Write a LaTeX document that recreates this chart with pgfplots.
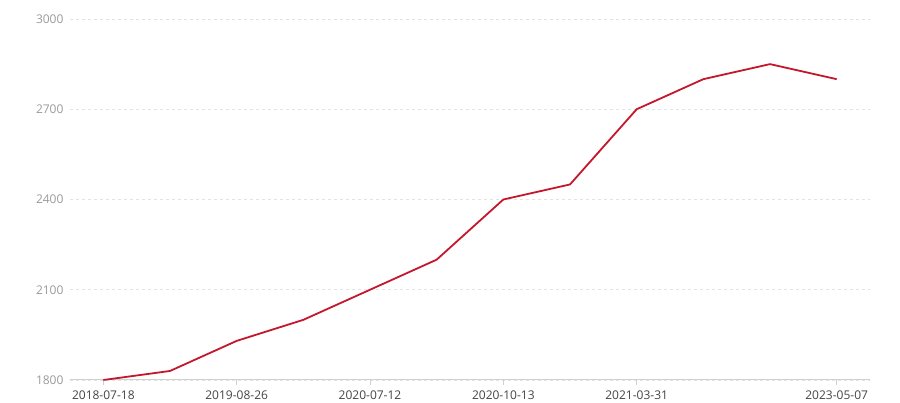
\documentclass[border=0pt]{standalone}
\usepackage{pgfplots}
\pgfplotsset{compat=1.18}
\usepackage{fontspec}
\setmainfont{Open Sans}
\definecolor{linered}{HTML}{C4172C}
\definecolor{gridgray}{HTML}{E3E3E3}
\definecolor{axisgray}{HTML}{D0D0D0}
\definecolor{ylab}{HTML}{9A9A9A}
\definecolor{xlab}{HTML}{444444}
\begin{document}
\begin{tikzpicture}[x=1pt,y=1pt]
\path (-70,-20) rectangle (830,380);
\begin{axis}[
    at={(0,0)}, anchor=south west,
    scale only axis,
    width=800pt, height=361pt,
    xmin=-0.5, xmax=11.5,
    ymin=1800, ymax=3000,
    ytick={1800,2100,2400,2700,3000},
    xtick={0,2,4,6,8,11},
    xticklabels={2018-07-18,2019-08-26,2020-07-12,2020-10-13,2021-03-31,2023-05-07},
    axis x line*=bottom,
    axis y line*=left,
    y axis line style={draw=none},
    ytick style={draw=none},
    x axis line style={axisgray, line width=1pt, -},
    xtick style={axisgray, line width=1pt},
    xtick align=outside,
    major tick length=5pt,
    ymajorgrids=true,
    grid style={gridgray, line width=0.8pt, dash pattern=on 3pt off 3pt},
    ticklabel style={font=\fontsize{12}{14}\selectfont},
    xticklabel style={text=xlab, yshift=-2pt},
    yticklabel style={text=ylab, xshift=-3pt},
    /pgf/number format/assume math mode=true,
    /pgf/number format/1000 sep={},
    clip=false,
]
\addplot[linered, line width=1.8pt, line join=round] coordinates {
    (0,1800) (1,1830) (2,1930) (3,2000) (4,2100) (5,2200)
    (6,2400) (7,2450) (8,2700) (9,2800) (10,2850) (11,2800)
};
\end{axis}
\end{tikzpicture}
\end{document}
